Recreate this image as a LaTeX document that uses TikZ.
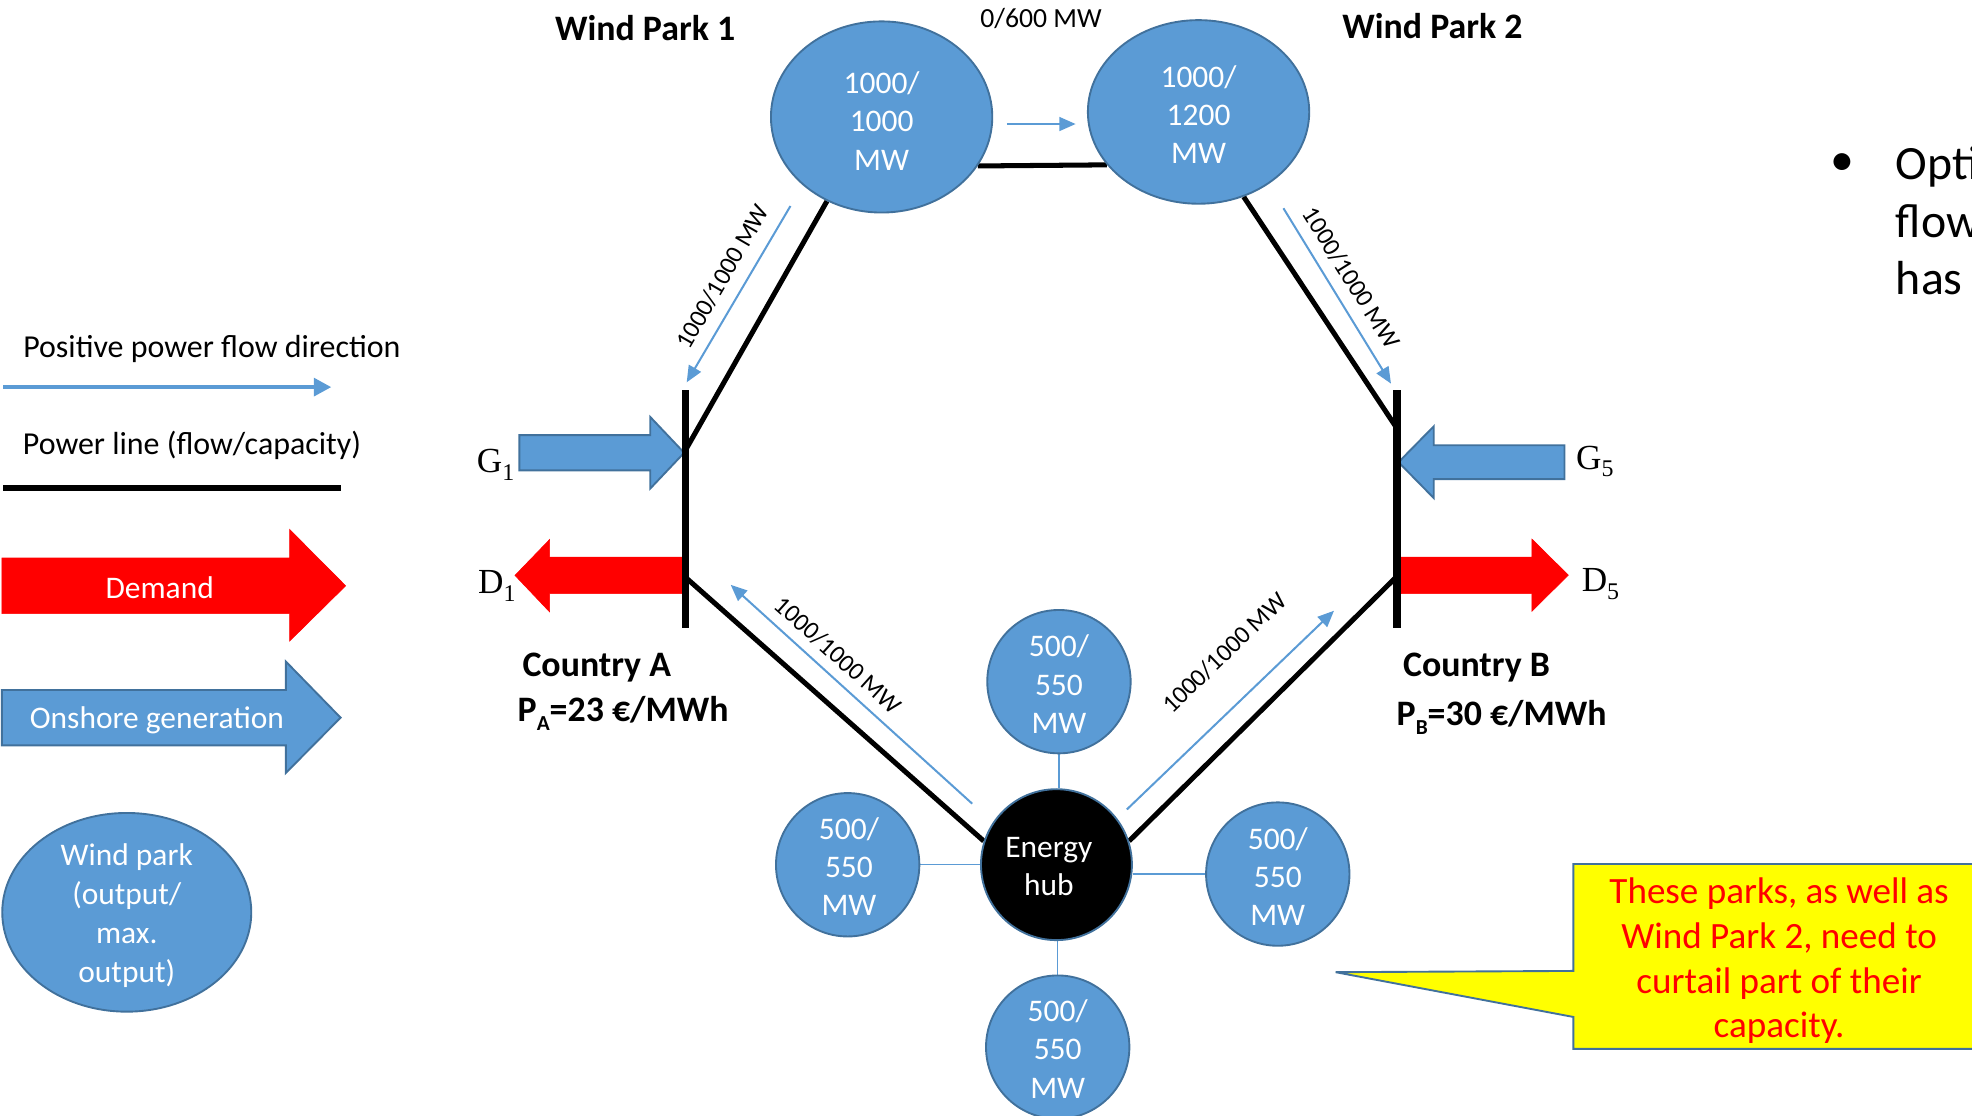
\documentclass[tikz,border=0pt]{standalone}
\usepackage{fontspec}
\setmainfont{Carlito}
\newfontfamily\serifgd{Liberation Serif}
\usetikzlibrary{shapes.geometric,arrows.meta,backgrounds}
\definecolor{offblue}{HTML}{5B9BD5}
\definecolor{offedge}{HTML}{41719C}
\definecolor{callyellow}{HTML}{FFFF00}
\definecolor{hotred}{HTML}{FF0000}
\begin{document}
\begin{tikzpicture}[x=1pt,y=-1pt,
  park/.style={ellipse,draw=offedge,line width=1.5pt,fill=offblue,inner sep=0pt},
  parktext/.style={text=white,align=center,inner sep=0pt,font=\fontsize{25}{30.5}\selectfont},
  powerline/.style={line width=4pt,black},
  busbar/.style={fill=black,inner sep=0pt,minimum width=6pt,minimum height=189pt},
  flowarrow/.style={draw=offblue,line width=1.6pt,-{Triangle[length=13pt,width=11pt]}},
  flowlabel/.style={inner sep=0pt,font=\fontsize{20}{24}\selectfont},
  hubtie/.style={draw=offblue,line width=1pt},
  boldlabel/.style={inner sep=0pt,font=\bfseries\fontsize{28.5}{34}\selectfont},
  gdlabel/.style={inner sep=0pt,anchor=base west,font=\serifgd\fontsize{28}{32}\selectfont},
  bluearrow/.style={fill=offblue,draw=offedge,line width=1.5pt,line join=miter},
  redarrow/.style={fill=hotred,draw=hotred,line width=0.5pt},
  legendtext/.style={inner sep=0pt,anchor=west,font=\fontsize{25.4}{30}\selectfont},
  whitetext/.style={inner sep=0pt,text=white,font=\fontsize{25}{30}\selectfont},
]
\path[use as bounding box] (0,0) rectangle (1568,887);
\clip (0,0) rectangle (1568,887);

% ---------- legend ----------
\node[legendtext] (lgflow) at (18.3,277.5) {Positive power flow direction};
\coordinate (lgfs) at (2.4,307.8);
\coordinate (lgfe) at (263.5,307.8);
\draw[draw=offblue,line width=3.6pt,-{Triangle[length=14pt,width=14pt]}] (lgfs) -- (lgfe);
\node[legendtext] (lgline) at (18,354) {Power line (flow/capacity)};
\coordinate (lgls) at (2.4,388);
\coordinate (lgle) at (271.5,388);
\draw[line width=4.4pt] (lgls) -- (lgle);
\draw[redarrow] (1.5,443.7) -- (230.3,443.7) -- (230.3,421) -- (274.8,465.8) -- (230.3,509.7) -- (230.3,487.9) -- (1.5,487.9) -- cycle;
\node[whitetext] (lgdem) at (127,467.5) {Demand};
\draw[bluearrow] (1.5,548.6) -- (227.3,548.6) -- (227.3,526) -- (270.8,570.6) -- (227.3,614.6) -- (227.3,592.7) -- (1.5,592.7) -- cycle;
\node[whitetext] (lgon) at (124.8,572.5) {Onshore generation};
\node[park,minimum width=198pt,minimum height=158pt] (lgpark) at (100.8,725.4) {};
\node[parktext,font=\fontsize{25}{31}\selectfont] (lgparkt) at (100.8,728) {Wind park\\(output/\\max.\\output)};

% ---------- wind parks ----------
\node[park,minimum width=176pt,minimum height=152pt] (wp1) at (701,93) {};
\node[parktext] (wp1t) at (701,96) {1000/\\1000\\MW};
\node[park,minimum width=176pt,minimum height=146pt] (wp2) at (953,89) {};
\node[parktext] (wp2t) at (953,91) {1000/\\1200\\MW};
\node[boldlabel] (wp1n) at (513,22.4) {Wind Park 1};
\node[boldlabel] (wp2n) at (1139,20.5) {Wind Park 2};
\node[inner sep=0pt,font=\fontsize{22}{26}\selectfont] (wplink) at (827.8,14.6) {0/600 MW};

% ---------- block arrows ----------
\draw[bluearrow] (413,346) -- (517,346) -- (517,331.5) -- (544,360) -- (517,388.5) -- (517,374) -- (413,374) -- cycle;
\draw[bluearrow] (1244,354) -- (1140,354) -- (1140,339) -- (1112,367.5) -- (1140,396) -- (1140,381) -- (1244,381) -- cycle;
\draw[redarrow] (543,443) -- (437,443) -- (437,429) -- (409.5,457.5) -- (437,486.5) -- (437,472) -- (543,472) -- cycle;
\draw[redarrow] (1114,443) -- (1218,443) -- (1218,428.6) -- (1247,457.3) -- (1218,486) -- (1218,472) -- (1114,472) -- cycle;

% ---------- buses ----------
\node[busbar] (busA) at (545,404.5) {};
\node[busbar] (busB) at (1111,404.5) {};
\coordinate (a1) at (545,358);
\coordinate (a2) at (545,459);
\coordinate (b1) at (1111,341);
\coordinate (b2) at (1111,458);

\node[gdlabel] (g1) at (379,375.5) {G\raisebox{-0.22em}{\fontsize{19}{19}\selectfont 1}};
\node[gdlabel] (d1) at (380,472) {D\raisebox{-0.22em}{\fontsize{19}{19}\selectfont 1}};
\node[gdlabel] (g5) at (1253,373) {G\raisebox{-0.22em}{\fontsize{19}{19}\selectfont 5}};
\node[gdlabel] (d5) at (1257.5,470.5) {D\raisebox{-0.22em}{\fontsize{19}{19}\selectfont 5}};

\node[boldlabel] (ctA) at (474.5,530.5) {Country A};
\node[boldlabel] (prA) at (495.5,567) {P\raisebox{-0.25em}{\fontsize{17}{17}\selectfont A}=23 €/MWh};
\node[boldlabel] (ctB) at (1174,530.5) {Country B};
\node[boldlabel] (prB) at (1194,570.5) {P\raisebox{-0.25em}{\fontsize{17}{17}\selectfont B}=30 €/MWh};

% ---------- hub and offshore parks ----------
\node[circle,fill=black,draw=offedge,line width=1.5pt,minimum size=120pt,inner sep=0pt] (hub) at (840,687.5) {};
\node[parktext] (hubt) at (834,689) {Energy\\hub};
\node[park,minimum width=114pt,minimum height=114pt] (sp1) at (842,542) {};
\node[parktext] (sp1t) at (842,544) {500/\\550\\MW};
\node[park,minimum width=114pt,minimum height=114pt] (sp2) at (674,687.6) {};
\node[parktext] (sp2t) at (675,689) {500/\\550\\MW};
\node[park,minimum width=114pt,minimum height=114pt] (sp3) at (1016,695) {};
\node[parktext] (sp3t) at (1016,697) {500/\\550\\MW};
\node[park,minimum width=114pt,minimum height=114pt] (sp4) at (841,832.6) {};
\node[parktext] (sp4t) at (841,834) {500/\\550\\MW};

% ---------- power lines (behind) ----------
\begin{scope}[on background layer]
\draw[powerline] (wp1.333.7) -- (wp2.210);
\draw[powerline] (wp1.237.3) -- (a1);
\draw[powerline] (wp2.298.8) -- (b1);
\draw[powerline] (a2) -- (hub.162.3);
\draw[powerline] (b2) -- (hub.18.6);
\draw[hubtie] (sp1.south) -- (sp1.south |- hub.north);
\draw[hubtie] (sp2.east) -- (sp2.east -| hub.west);
\draw[hubtie] (sp3.west) -- (sp3.west -| hub.east);
\draw[hubtie] (sp4.north) -- (sp4.north |- hub.south);
\end{scope}

% ---------- flow arrows ----------
\coordinate (f0s) at (800.5,98.6);
\coordinate (f0e) at (855.3,98.6);
\coordinate (f1s) at (628.5,163.8);
\coordinate (f1e) at (546,304);
\coordinate (f2s) at (1020.5,165.6);
\coordinate (f2e) at (1106,305);
\coordinate (f3s) at (773,639);
\coordinate (f3e) at (581,465);
\coordinate (f4s) at (896,643.6);
\coordinate (f4e) at (1060.7,485.6);
\draw[flowarrow] (f0s) -- (f0e);
\draw[flowarrow] (f1s) -- (f1e);
\draw[flowarrow] (f2s) -- (f2e);
\draw[flowarrow] (f3s) -- (f3e);
\draw[flowarrow] (f4s) -- (f4e);
\node[flowlabel,rotate=60] (l1) at (574.6,220) {1000/1000 MW};
\node[flowlabel,rotate=-58] (l2) at (1074.5,221) {1000/1000 MW};
\node[flowlabel,rotate=-42] (l3) at (666.4,521) {1000/1000 MW};
\node[flowlabel,rotate=44] (l4) at (973.6,519) {1000/1000 MW};

% ---------- callout ----------
\draw[fill=callyellow,draw=offedge,line width=1.5pt] (1251,687) -- (1590,687) -- (1590,834) -- (1251,834) -- (1251,808.6) -- (1062,773) -- (1251,772) -- cycle;
\node[inner sep=0pt,align=center,text=hotred,font=\fontsize{29.5}{35.5}\selectfont] (callt) at (1414.6,764) {These parks, as well as\\Wind Park 2, need to\\curtail part of their\\capacity.};

% ---------- bullet text (cut at edge) ----------
\node[inner sep=0pt,font=\fontsize{38}{45}\selectfont] (bul) at (1465,131) {•};
\node[inner sep=0pt,anchor=base west,font=\fontsize{38}{45}\selectfont] (bt1) at (1507.3,143) {Opti};
\node[inner sep=0pt,anchor=base west,font=\fontsize{38}{45}\selectfont] (bt2) at (1507.3,188.5) {flow};
\node[inner sep=0pt,anchor=base west,font=\fontsize{38}{45}\selectfont] (bt3) at (1507.3,234) {has};
\end{tikzpicture}
\end{document}
